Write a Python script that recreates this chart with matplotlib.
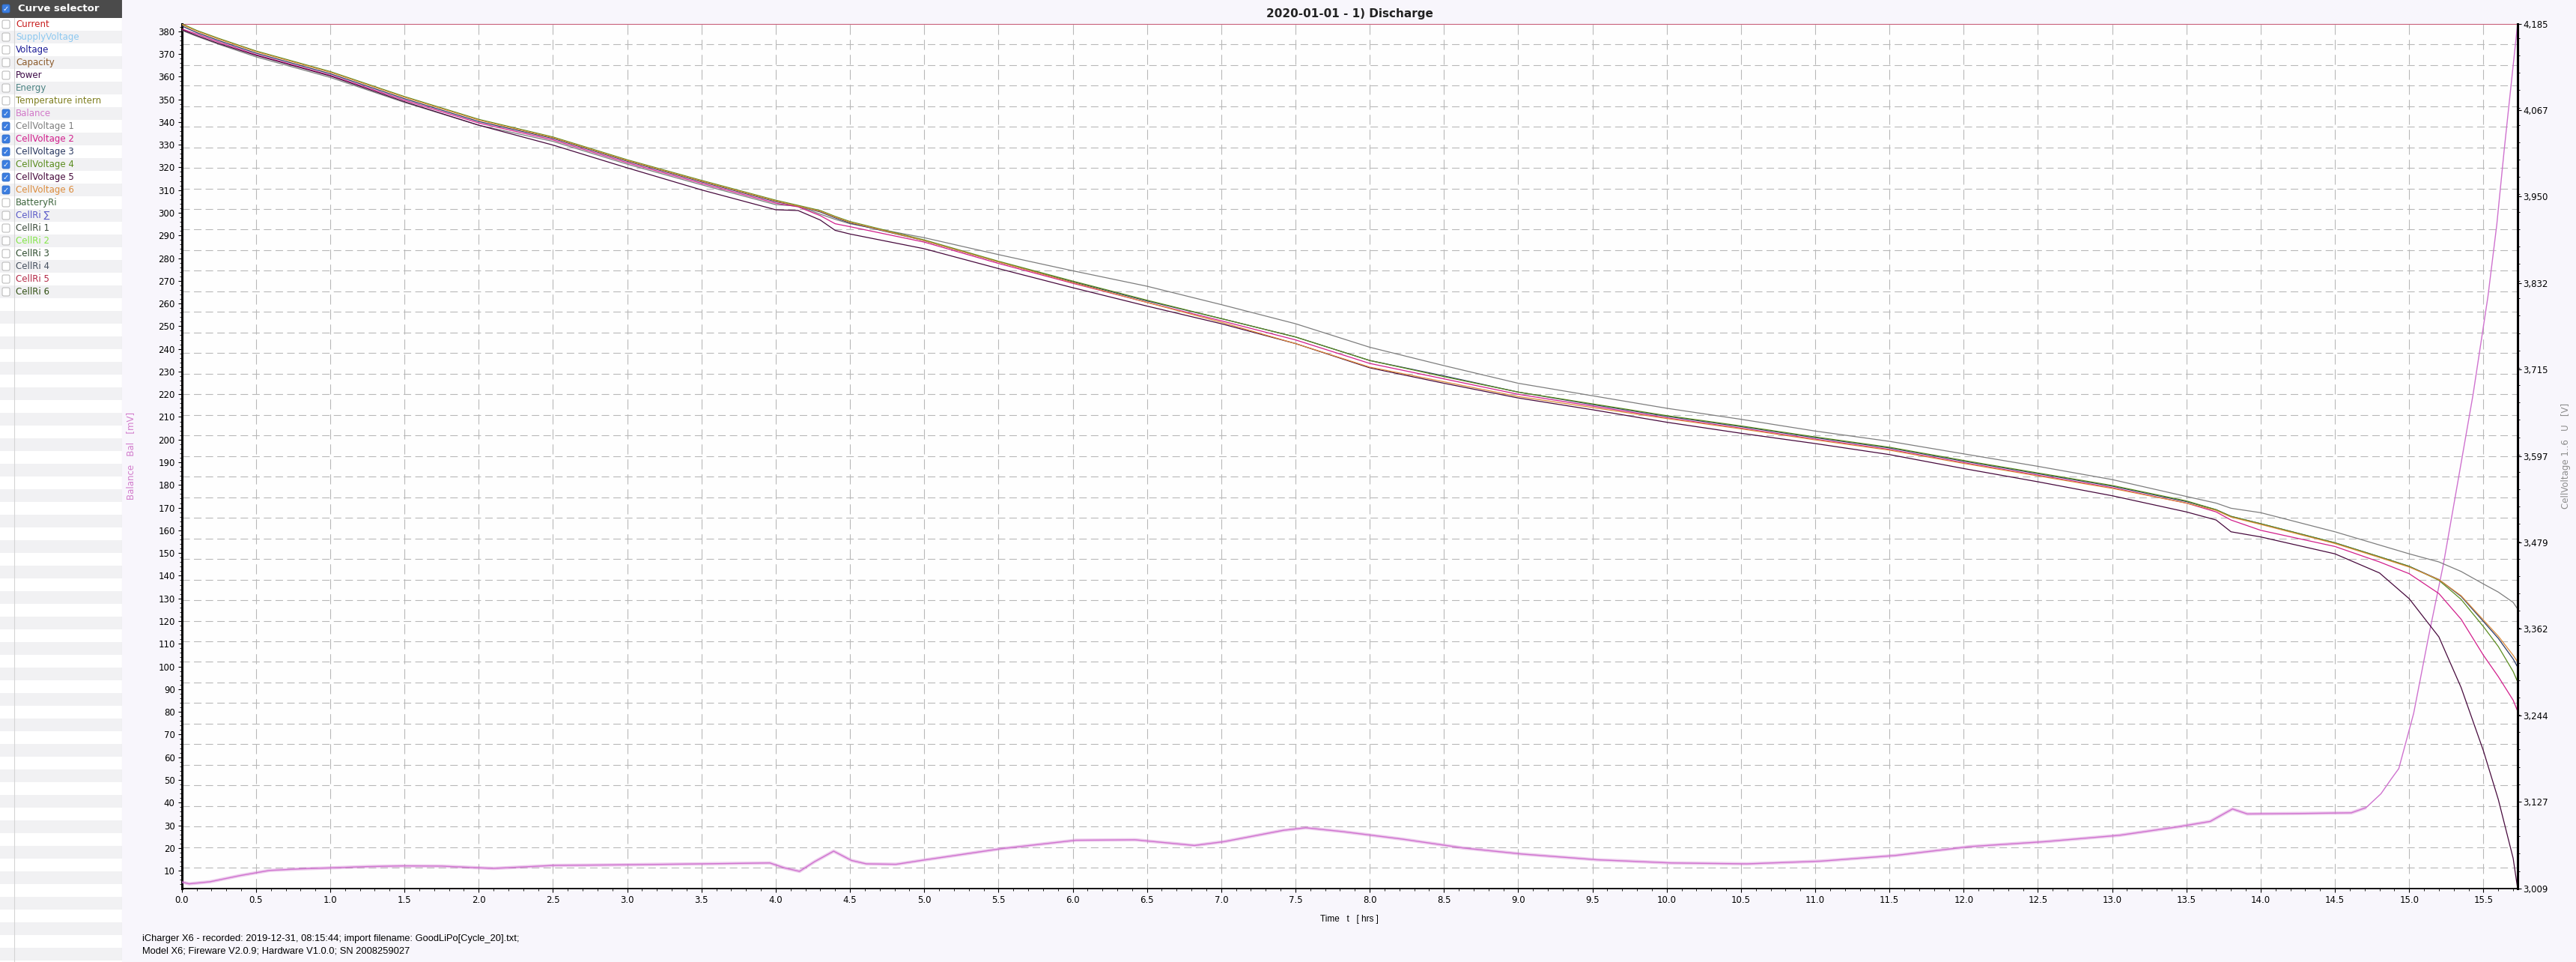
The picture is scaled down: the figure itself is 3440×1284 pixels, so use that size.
import matplotlib
matplotlib.use('Agg')
import matplotlib.pyplot as plt
from matplotlib.patches import Rectangle, FancyBboxPatch
from matplotlib.ticker import MultipleLocator, AutoMinorLocator

plt.rcParams['font.family'] = ['DejaVu Sans']

# ---- data ----
# time knots [hrs] for the six cell voltages
t_cells = [0.0, 0.1, 0.25, 0.5, 0.75, 1.0, 1.5, 2.0, 2.5, 3.0, 3.5, 4.0, 4.15, 4.3, 4.4, 4.5,
           5.0, 5.5, 6.0, 6.5, 7.0, 7.5, 8.0, 8.5, 9.0, 9.5, 10.0, 10.5, 11.0, 11.5, 12.0, 12.5,
           13.0, 13.5, 13.7, 13.8, 14.0, 14.5, 14.8, 15.0, 15.2, 15.35, 15.5, 15.6, 15.7, 15.73]

cell1 = [4.176, 4.168, 4.157, 4.140, 4.126, 4.112, 4.078, 4.047, 4.025, 3.994, 3.966, 3.939, 3.937, 3.926, 3.919, 3.913,
         3.894, 3.871, 3.849, 3.828, 3.803, 3.777, 3.745, 3.720, 3.696, 3.679, 3.662, 3.647, 3.631, 3.617, 3.600, 3.583,
         3.565, 3.542, 3.533, 3.526, 3.520, 3.494, 3.476, 3.464, 3.453, 3.440, 3.423, 3.412, 3.398, 3.389]
cell2 = [4.178, 4.171, 4.160, 4.143, 4.129, 4.115, 4.081, 4.050, 4.027, 3.996, 3.968, 3.941, 3.936, 3.924, 3.913, 3.909,
         3.888, 3.859, 3.832, 3.806, 3.781, 3.755, 3.723, 3.702, 3.681, 3.665, 3.649, 3.635, 3.620, 3.606, 3.588, 3.571,
         3.554, 3.533, 3.521, 3.510, 3.496, 3.474, 3.453, 3.437, 3.410, 3.375, 3.326, 3.297, 3.265, 3.250]
cell3 = [4.182, 4.173, 4.162, 4.145, 4.131, 4.117, 4.083, 4.052, 4.029, 3.998, 3.970, 3.943, 3.937, 3.929, 3.921, 3.914,
         3.890, 3.861, 3.834, 3.808, 3.784, 3.759, 3.727, 3.706, 3.684, 3.667, 3.651, 3.637, 3.622, 3.608, 3.590, 3.573,
         3.556, 3.535, 3.524, 3.515, 3.505, 3.479, 3.460, 3.447, 3.429, 3.406, 3.372, 3.349, 3.321, 3.310]
cell4 = [4.185, 4.176, 4.165, 4.148, 4.134, 4.120, 4.086, 4.055, 4.031, 4.000, 3.972, 3.945, 3.938, 3.931, 3.923, 3.916,
         3.891, 3.862, 3.835, 3.809, 3.784, 3.759, 3.727, 3.705, 3.684, 3.668, 3.652, 3.638, 3.623, 3.609, 3.591, 3.574,
         3.557, 3.536, 3.524, 3.515, 3.505, 3.479, 3.460, 3.447, 3.428, 3.402, 3.365, 3.338, 3.304, 3.290]
cell5 = [4.177, 4.169, 4.158, 4.142, 4.128, 4.114, 4.079, 4.047, 4.020, 3.989, 3.959, 3.932, 3.931, 3.918, 3.904, 3.899,
         3.879, 3.852, 3.826, 3.801, 3.777, 3.750, 3.717, 3.696, 3.676, 3.660, 3.643, 3.628, 3.614, 3.599, 3.580, 3.562,
         3.543, 3.521, 3.510, 3.494, 3.487, 3.464, 3.438, 3.403, 3.351, 3.282, 3.196, 3.130, 3.050, 3.009]
cell6 = [4.184, 4.175, 4.164, 4.147, 4.133, 4.119, 4.085, 4.054, 4.030, 3.999, 3.971, 3.944, 3.937, 3.930, 3.922, 3.915,
         3.890, 3.861, 3.833, 3.806, 3.779, 3.750, 3.718, 3.698, 3.678, 3.663, 3.648, 3.634, 3.619, 3.605, 3.587, 3.570,
         3.553, 3.533, 3.523, 3.514, 3.504, 3.478, 3.459, 3.446, 3.429, 3.407, 3.374, 3.352, 3.326, 3.317]

# balance [mV]
t_bal = [0.0, 0.05, 0.19, 0.39, 0.59, 0.8, 0.99, 1.25, 1.49, 1.75, 1.99, 2.1, 2.5, 3.0, 3.5, 3.96, 4.06, 4.16,
         4.26, 4.39, 4.51, 4.61, 4.81, 5.01, 5.52, 6.02, 6.42, 6.82, 7.02, 7.42, 7.57, 7.82, 8.22, 8.63, 9.03,
         9.53, 10.03, 10.54, 11.04, 11.54, 12.04, 12.55, 13.05, 13.45, 13.66, 13.81, 13.91, 14.26, 14.61, 14.71,
         14.81, 14.88, 14.93, 15.03, 15.13, 15.23, 15.33, 15.43, 15.53, 15.59, 15.64, 15.73]
balance = [5.0, 4.2, 5.1, 7.8, 10.1, 10.8, 11.2, 11.8, 12.1, 12.0, 11.3, 11.0, 12.3, 12.6, 13.0, 13.4, 11.2, 9.7,
           13.9, 18.6, 14.5, 13.0, 12.8, 14.8, 19.7, 23.4, 23.6, 21.1, 22.8, 27.8, 28.9, 27.2, 23.9, 20.0, 17.3,
           14.8, 13.4, 13.0, 14.2, 16.7, 20.6, 22.8, 25.6, 29.4, 31.7, 37.2, 35.0, 35.2, 35.5, 37.8,
           43.9, 50.5, 55.0, 79.3, 113.0, 144.9, 182.3, 219.8, 262.9, 294.8, 327.8, 383.3]
n_flat = 50  # points before the final steep rise (where the reading is noisy)

cell_series = [cell1, cell2, cell3, cell4, cell5, cell6]
cell_colors = ['#7d7d7d', '#d21e8c', '#2b3a66', '#5a8c1e', '#46093c', '#dc8c3c']
bal_color = '#cf72cf'

x_ticks = [i * 0.5 for i in range(32)]
bal_ticks = list(range(10, 381, 10))
volt_ticks = [3.009, 3.127, 3.244, 3.362, 3.479, 3.597, 3.715, 3.832, 3.950, 4.067, 4.185]

# curve selector entries: name, colour, checked
selector_names = ['Current', 'SupplyVoltage', 'Voltage', 'Capacity', 'Power', 'Energy',
                  'Temperature intern', 'Balance', 'CellVoltage 1', 'CellVoltage 2', 'CellVoltage 3',
                  'CellVoltage 4', 'CellVoltage 5', 'CellVoltage 6', 'BatteryRi', 'CellRi \u2211',
                  'CellRi 1', 'CellRi 2', 'CellRi 3', 'CellRi 4', 'CellRi 5', 'CellRi 6']
selector_colors = ['#c81e1e', '#8cc8f0', '#1c1c96', '#8b5a2b', '#3c0a46', '#4a8282',
                   '#7d7d1e', '#d278c8', '#7d7d7d', '#d21e8c', '#28375f',
                   '#5a8c1e', '#46093c', '#dc8c3c', '#3c643c', '#5a5ac8',
                   '#3c4b3c', '#82e646', '#2d4b2d', '#46505f', '#b42846', '#325014']
selector_checked = [False] * 7 + [True] * 7 + [False] * 8

W, H = 3440, 1284
fig = plt.figure(figsize=(W / 100, H / 100), dpi=100, facecolor='#f8f6fc')

# ---- curve selector panel (left) ----
pax = fig.add_axes([0, 0, 163 / W, 1])
pax.set_xlim(0, 163)
pax.set_ylim(H, 0)
pax.axis('off')
pax.add_patch(Rectangle((0, 0), 163, H, facecolor='#fafafa', edgecolor='none'))
row_h = 17
n_rows = (H - 24) // row_h + 1
for i in range(n_rows):
    y0 = 24 + i * row_h
    pax.add_patch(Rectangle((0, y0), 163, row_h, facecolor='#ffffff' if i % 2 == 0 else '#f1f1f3',
                            edgecolor='none'))
pax.plot([18.5, 18.5], [24, H], color='#d4d4d4', lw=0.8)
pax.plot([162.5, 162.5], [0, H], color='#d0d0d0', lw=0.8)
pax.add_patch(Rectangle((0, 0), 163, 23.5, facecolor='#4b4b4b', edgecolor='none'))
pax.add_patch(FancyBboxPatch((3, 6), 10, 11, boxstyle='round,pad=0,rounding_size=2',
                             facecolor='#3b7de0', edgecolor='#2e6cc8', lw=0.6))
pax.text(8, 11.8, '\u2713', color='white', fontsize=7, ha='center', va='center', fontweight='bold')
pax.text(24, 11.5, 'Curve selector', color='white', fontsize=9.5, fontweight='bold', va='center')

for i, (name, col, chk) in enumerate(zip(selector_names, selector_colors, selector_checked)):
    yc = 24 + i * row_h + row_h / 2
    if chk:
        pax.add_patch(FancyBboxPatch((3, yc - 5.5), 10, 11, boxstyle='round,pad=0,rounding_size=2',
                                     facecolor='#3b7de0', edgecolor='#2e6cc8', lw=0.6))
        pax.text(8, yc + 0.3, '\u2713', color='white', fontsize=7, ha='center', va='center',
                 fontweight='bold')
    else:
        pax.add_patch(FancyBboxPatch((3, yc - 5.5), 10, 11, boxstyle='round,pad=0,rounding_size=2',
                                     facecolor='#ffffff', edgecolor='#b4b4b4', lw=0.7))
    pax.text(21, yc, name, color=col, fontsize=8.5, va='center')

# ---- main chart ----
left, right = 242.7 / W, 3362 / W
bottom, top = 1 - 1185.7 / H, 1 - 31.7 / H
ax = fig.add_axes([left, bottom, right - left, top - bottom])
ax.set_facecolor('#fefefe')
ax2 = ax.twinx()

# balance: soft wide underlay imitates the jittery trace, thin line on top
ax.plot(t_bal[:n_flat], balance[:n_flat], color=bal_color, lw=3.2, alpha=0.35,
        solid_capstyle='butt', zorder=3)
ax.plot(t_bal, balance, color=bal_color, lw=1.0, zorder=3)
for vals, col in zip(cell_series, cell_colors):
    ax2.plot(t_cells, vals, color=col, lw=0.9)

# dashed grid
ax.set_xticks(x_ticks)
ax.xaxis.set_minor_locator(MultipleLocator(0.1))
ax.grid(axis='x', which='major', color='#b8b8b8', lw=0.8, linestyle=(0, (12, 6)))
ax.hlines([k / 42 for k in range(1, 42)], 0, 1, transform=ax.transAxes,
          colors='#b8b8b8', lw=0.8, linestyles=(0, (9, 5)), zorder=0.5)

ax.set_xlim(0, 15.73)
ax.set_ylim(2.2, 383.3)
ax2.set_ylim(3.009, 4.185)

ax.set_xticklabels([f'{v:.1f}' for v in x_ticks])
ax.set_yticks(bal_ticks)
ax.yaxis.set_minor_locator(AutoMinorLocator(5))
ax2.set_yticks(volt_ticks)
ax2.set_yticklabels([f'{v:.3f}'.replace('.', ',') for v in volt_ticks])
ax2.yaxis.set_minor_locator(AutoMinorLocator(5))

ax.tick_params(axis='both', which='major', direction='out', length=3.5, width=0.8,
               labelsize=8.5, pad=3)
ax.tick_params(axis='both', which='minor', direction='out', length=2, width=0.6)
ax2.tick_params(axis='y', which='major', direction='out', length=3.5, width=0.8,
                labelsize=8.5, pad=2)
ax2.tick_params(axis='y', which='minor', direction='out', length=2, width=0.6)

ax.spines['left'].set_linewidth(2.2)
ax.spines['bottom'].set_linewidth(1.3)
ax.spines['right'].set_visible(False)
ax.spines['top'].set_color('#c8607a')
ax.spines['top'].set_linewidth(0.8)
for s in ['left', 'top', 'bottom']:
    ax2.spines[s].set_visible(False)
ax2.spines['right'].set_linewidth(2.2)

ax.set_ylabel('Balance   Bal   [mV]', color='#d27ccc', fontsize=8.5)
ax.yaxis.set_label_coords(-0.0198, 0.5)
ax2.set_ylabel('CellVoltage 1..6   U   [V]', color='#8c8c8c', fontsize=8.5)
ax2.yaxis.set_label_coords(1.0186, 0.5)
ax.set_xlabel('Time   t   [ hrs ]', fontsize=8.5, family=['Liberation Sans', 'DejaVu Sans'])
ax.xaxis.set_label_coords(0.5, -0.031)
ax.set_title('2020-01-01 - 1) Discharge', fontsize=11, fontweight='bold', color='#222222', pad=6)

foot = dict(fontsize=9.3, va='center', family=['Liberation Sans', 'DejaVu Sans'])
fig.text(190 / W, 1 - 1253 / H, 'iCharger X6 - recorded: 2019-12-31, 08:15:44; import filename: '
         'GoodLiPo[Cycle_20].txt;', **foot)
fig.text(190 / W, 1 - 1269 / H, 'Model X6; Fireware V2.0.9; Hardware V1.0.0; SN 2008259027', **foot)

fig.savefig('out.png', dpi=100, facecolor=fig.get_facecolor())
